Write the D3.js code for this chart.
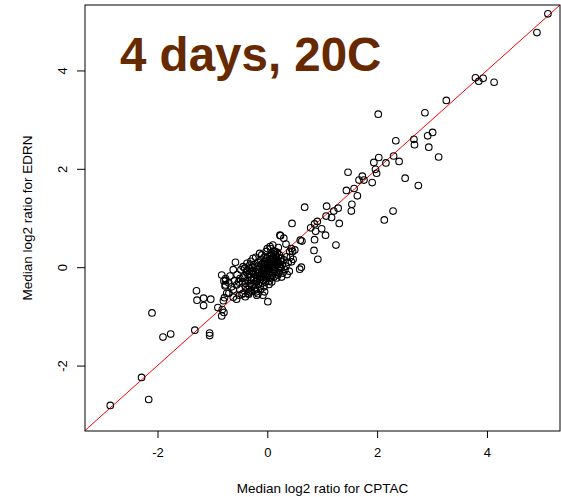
<!DOCTYPE html>
<html>
<head>
<meta charset="utf-8">
<script src="https://cdn.jsdelivr.net/npm/d3@7"></script>
<style>
  html, body { margin: 0; padding: 0; background: #fff; }
  svg { display: block; }
  text { font-family: "Liberation Sans", Arial, sans-serif; }
</style>
</head>
<body>
<svg id="chart" width="561" height="497"></svg>
<script>
// Median log2 ratios: CPTAC (x) vs EDRN (y)
const xTicks = [-2, 0, 2, 4];
const yTicks = [-2, 0, 2, 4];
const xLabel = "Median log2 ratio for CPTAC";
const yLabel = "Median log2 ratio for EDRN";
const title = "4 days, 20C";

// upper tail, above the central cluster
const upperPoints = [
  [5.11,5.15],[4.91,4.77],[3.79,3.85],[3.85,3.78],[3.93,3.84],[4.13,3.76],[3.26,3.39],
  [2.87,3.14],[2.02,3.11],[3.01,2.74],[2.92,2.67],[2.67,2.60],[2.68,2.49],[2.94,2.44],
  [2.34,2.57],[3.12,2.24],[2.30,2.26],[2.40,2.15],[2.16,2.12],[2.03,2.23],[1.94,2.13],
  [1.97,1.99],[1.99,1.91],[2.51,1.81],[2.75,1.66],[1.47,1.93],[1.73,1.85],[1.76,1.77],
  [1.67,1.77],[1.91,1.72],[1.58,1.60],[1.44,1.56],[1.64,1.45],[1.54,1.28],[1.53,1.14],
  [1.29,1.20],[1.21,1.14],[1.08,1.24],[1.07,1.04],[1.17,1.01],[1.31,0.89],[0.68,1.22],
  [0.45,0.89],[0.91,0.93],[0.86,0.88],[0.79,0.80],[0.99,0.78],[0.88,0.73],[1.06,0.65],
  [0.63,0.53],[0.86,0.56],[1.25,0.45],[0.85,0.34],[0.92,0.16],[0.50,0.35],[0.46,0.32],
  [0.47,0.16],[0.62,0.00],[2.29,1.14],[2.13,0.96],[0.24,0.64],[0.30,0.59],[0.34,0.47],
  [0.05,0.42],[0.44,0.38],[0.59,-0.04],[0.06,0.38],[0.14,0.32],[0.23,0.65],[0.41,0.32],
  [0.35,0.21],[0.44,0.11],[0.60,0.55]
];

// lower tail
const lowerPoints = [
  [-2.10,-0.93],[-1.90,-1.42],[-1.76,-1.36],[-1.32,-1.28],[-1.05,-1.34],[-1.05,-1.39],
  [-2.29,-2.24],[-2.86,-2.81],[-2.16,-2.69],[-1.29,-0.48],[-1.28,-0.67],[-1.16,-0.63],
  [-1.16,-0.78],[-1.03,-0.65],[-0.90,-0.82],[-0.82,-0.86],[-0.83,-0.99],[-0.80,-0.68],
  [-0.78,-0.62],[-0.74,-0.53],[-0.76,-0.36],[-0.76,-0.27],[-0.79,-0.92],[-0.70,-0.53],
  [-0.62,-0.61],[-0.56,-0.65],[-0.51,-0.57],[-0.44,-0.53],[-0.35,-0.53],[-0.32,-0.50],
  [-0.17,-0.54],[-0.08,-0.57],[0.01,-0.70],[-0.83,-0.16],[-0.76,-0.23],[-0.79,-0.28],
  [-0.77,-0.38],[-0.62,-0.46],[-0.56,-0.36],[-0.50,-0.23],[-0.41,-0.02],[-0.44,0.01],
  [-0.32,0.04],[-0.29,-0.09],[-0.35,-0.16],[-0.05,-0.50],[-0.19,-0.57]
];

// dense central cluster
const corePoints = [
  [-0.45,-0.30],[-0.42,-0.18],[-0.40,-0.40],[-0.38,-0.10],[-0.36,-0.26],[-0.35,-0.45],
  [-0.33,-0.02],[-0.31,-0.33],[-0.30,-0.20],[-0.28,-0.38],[-0.27,-0.08],[-0.25,-0.27],
  [-0.24,0.05],[-0.23,-0.15],[-0.22,-0.42],[-0.20,-0.30],[-0.19,-0.05],[-0.18,-0.22],
  [-0.17,0.10],[-0.16,-0.35],[-0.15,-0.12],[-0.14,0.00],[-0.13,-0.25],[-0.12,0.15],
  [-0.11,-0.18],[-0.10,-0.06],[-0.09,-0.32],[-0.08,0.08],[-0.07,-0.14],[-0.06,0.20],
  [-0.05,-0.02],[-0.04,-0.24],[-0.03,0.12],[-0.02,-0.10],[-0.01,0.03],[0.00,-0.18],
  [0.01,0.22],[0.02,-0.05],[0.03,0.10],[0.04,-0.28],[0.05,0.02],[0.06,0.16],
  [0.07,-0.12],[0.08,0.28],[0.09,0.06],[0.10,-0.04],[0.11,0.18],[0.12,-0.20],
  [0.13,0.10],[0.14,0.00],[0.15,0.25],[0.16,-0.10],[0.17,0.14],[0.18,0.04],
  [0.19,-0.16],[0.20,0.20],[0.21,0.08],[0.22,-0.06],[0.24,0.12],[0.25,-0.02],
  [0.27,0.05],[0.28,-0.12],[0.30,0.15],
  [-0.55,-0.15],[-0.52,-0.30],[-0.50,-0.45],[-0.48,-0.05],[-0.46,-0.55],[-0.44,-0.22],
  [-0.40,-0.60],[-0.37,0.08],[-0.34,-0.55],[-0.30,0.12],[-0.29,-0.48],[-0.26,0.18],
  [-0.21,0.20],[-0.20,-0.50],[-0.14,0.28],[-0.12,-0.45],[-0.10,0.25],[-0.06,-0.40],
  [-0.02,0.32],[0.00,0.38],[0.03,-0.35],[0.08,-0.30],[0.12,0.32],[0.18,0.30],
  [0.22,0.25],[0.26,-0.20],[0.32,-0.05],[0.34,0.02],[0.36,-0.15],[0.38,0.10],
  [0.40,-0.08],[0.42,0.20],[0.20,0.40],[0.10,0.45],[-0.62,-0.05],[-0.60,-0.28],
  [-0.58,0.10],[-0.65,-0.40],[-0.68,-0.18],[-0.70,-0.32],
  [-0.26,-0.12],[-0.24,-0.34],[-0.21,-0.09],[-0.19,-0.27],[-0.17,-0.17],[-0.15,-0.05],
  [-0.13,-0.38],[-0.11,0.06],[-0.09,-0.21],[-0.07,-0.03],[-0.05,0.11],[-0.03,-0.30],
  [-0.01,-0.14],[0.01,0.07],[0.03,-0.21],[0.05,0.24],[0.07,0.04],[0.09,-0.17],
  [0.11,0.12],[0.13,-0.08],[0.15,0.06],[0.17,-0.22],[0.19,0.11],[0.21,-0.12],
  [0.23,0.02],[-0.33,-0.38],[-0.29,-0.26],[-0.27,0.00],[-0.23,-0.47],[-0.18,0.02],
  [-0.14,-0.20],[-0.10,-0.13],[-0.06,-0.08],[-0.04,0.06],[-0.02,0.18],[0.00,-0.03],
  [0.02,0.14],[0.04,-0.09],[0.06,-0.22],[0.08,0.18],[0.10,0.02],[0.14,0.16],
  [0.16,0.22],[-0.39,-0.33],[-0.36,-0.06],[-0.32,-0.14],[-0.08,-0.26],[0.26,0.18]
];

const points = upperPoints.concat(lowerPoints, corePoints);

const svg = d3.select("#chart");
const plot = { left: 85, right: 560, top: 5, bottom: 431 };

const x = d3.scaleLinear().domain([-3.32, 5.33]).range([plot.left, plot.right]);
const y = d3.scaleLinear().domain([-3.33, 5.33]).range([plot.bottom, plot.top]);

svg.append("clipPath").attr("id", "clip")
  .append("rect")
  .attr("x", plot.left).attr("y", plot.top)
  .attr("width", plot.right - plot.left).attr("height", plot.bottom - plot.top);

// identity line y = x
svg.append("line")
  .attr("clip-path", "url(#clip)")
  .attr("x1", x(-3.4)).attr("y1", y(-3.4))
  .attr("x2", x(5.4)).attr("y2", y(5.4))
  .attr("stroke", "#ff0000").attr("stroke-width", 1);

// points
svg.append("g")
  .selectAll("circle")
  .data(points)
  .join("circle")
  .attr("cx", d => x(d[0]))
  .attr("cy", d => y(d[1]))
  .attr("r", 3.3)
  .attr("fill", "none")
  .attr("stroke", "#000")
  .attr("stroke-width", 1.1);

// frame
svg.append("rect")
  .attr("x", plot.left).attr("y", plot.top)
  .attr("width", plot.right - plot.left).attr("height", plot.bottom - plot.top)
  .attr("fill", "none").attr("stroke", "#000").attr("stroke-width", 1);

// axes
const fmt = d => (d < 0 ? "-" + Math.abs(d) : String(d));
const xAxis = svg.append("g")
  .attr("transform", `translate(0,${plot.bottom})`)
  .call(d3.axisBottom(x).tickValues(xTicks).tickFormat(fmt).tickSize(7).tickPadding(10));
const yAxis = svg.append("g")
  .attr("transform", `translate(${plot.left},0)`)
  .call(d3.axisLeft(y).tickValues(yTicks).tickFormat(fmt).tickSize(8).tickPadding(10));

[xAxis, yAxis].forEach(g => {
  g.select(".domain").remove();
  g.selectAll("line").attr("stroke", "#000");
  g.selectAll("text").attr("fill", "#000").style("font-size", "13px")
    .style("font-family", '"Liberation Sans", Arial, sans-serif');
});

// y tick labels run parallel to the axis
yAxis.selectAll(".tick text")
  .attr("x", null).attr("dy", null)
  .attr("text-anchor", "middle")
  .attr("transform", "translate(-23,0) rotate(-90)")
  .attr("dy", "0.35em");

// axis titles
svg.append("text")
  .attr("x", (plot.left + plot.right) / 2).attr("y", 493)
  .attr("text-anchor", "middle")
  .style("font-size", "13.5px")
  .text(xLabel);

svg.append("text")
  .attr("transform", `translate(32,${(plot.top + plot.bottom) / 2}) rotate(-90)`)
  .attr("text-anchor", "middle")
  .style("font-size", "13.5px")
  .text(yLabel);

// panel title
svg.append("text")
  .attr("x", 120).attr("y", 71)
  .attr("fill", "#662900")
  .style("font-size", "47.5px")
  .style("font-weight", "bold")
  .text(title);
</script>
</body>
</html>
